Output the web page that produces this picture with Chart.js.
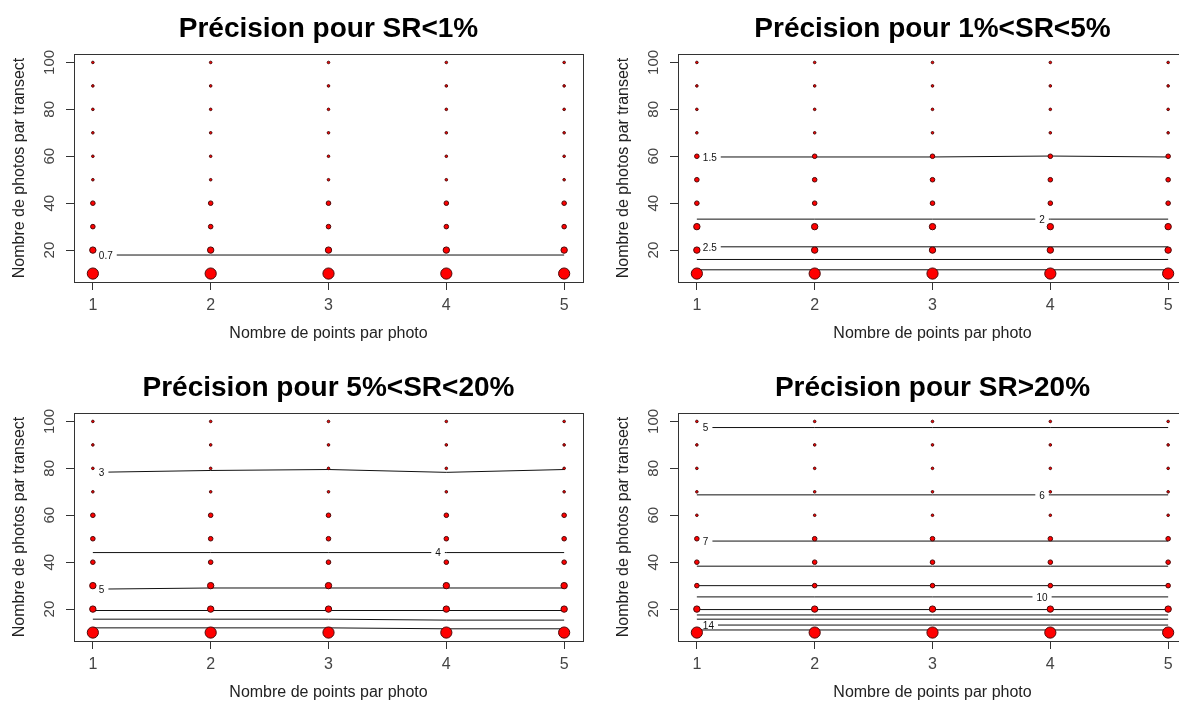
<!DOCTYPE html>
<html>
<head>
<meta charset="utf-8">
<script src="https://cdn.jsdelivr.net/npm/chart.js@4"></script>
<style>
  html, body { margin: 0; padding: 0; background: #fff; }
  body { width: 1179px; height: 702px; overflow: hidden; position: relative; }
  canvas { position: absolute; }
</style>
</head>
<body>
<canvas id="c1" width="600" height="352" style="left:0;top:0"></canvas>
<canvas id="c2" width="600" height="352" style="left:604px;top:0"></canvas>
<canvas id="c3" width="600" height="352" style="left:0;top:359px"></canvas>
<canvas id="c4" width="600" height="352" style="left:604px;top:359px"></canvas>
<script>
// ---------------------- Data ----------------------
const pointsPerPhoto = [1, 2, 3, 4, 5];
const photosPerTransect = [10, 20, 30, 40, 50, 60, 70, 80, 90, 100];
const xTicks = [1, 2, 3, 4, 5];
const yTicks = [20, 40, 60, 80, 100];

const titles = [
  "Précision pour SR<1%",
  "Précision pour 1%<SR<5%",
  "Précision pour 5%<SR<20%",
  "Précision pour SR>20%"
];

// symbol size class for each photos-per-transect value (10..100)
const sizeSR1 = [4, 3, 2, 2, 1, 1, 1, 1, 1, 1];
const sizeSR5 = [4, 3, 3, 2, 2, 2, 1, 1, 1, 1];
const sizeSR20 = [4, 3, 3, 2, 2, 2, 1, 1, 1, 1];
const sizeSRmax = [4, 3, 2, 2, 2, 1, 1, 1, 1, 1];

// contour levels, their height at x = 1..5, and where the label sits
const levelsSR1 = ["0.7"];
const contourSR1 = [[17.9, 17.9, 17.9, 17.9, 17.9]];
const labelSR1 = ["left"];

const levelsSR5 = ["1.5", "2", "2.5", "3", "3.5"];
const contourSR5 = [
  [59.7, 59.7, 59.7, 60.1, 59.7],
  [33.2, 33.2, 33.2, 33.2, 33.2],
  [21.4, 21.4, 21.4, 21.4, 21.4],
  [16.0, 16.0, 16.0, 16.0, 16.0],
  [11.6, 11.6, 11.6, 11.6, 11.6]
];
const labelSR5 = ["left", "mid", "left", null, null];

const levelsSR20 = ["3", "4", "5", "6", "7", "8"];
const contourSR20 = [
  [78.3, 79.1, 79.5, 78.3, 79.5],
  [44.1, 44.1, 44.1, 44.1, 44.1],
  [28.5, 29.0, 29.0, 29.0, 29.0],
  [19.4, 19.4, 19.4, 19.4, 19.4],
  [15.7, 15.7, 15.7, 15.3, 15.3],
  [12.0, 12.0, 12.0, 11.6, 11.6]
];
const labelSR20 = ["left", "mid", "left", null, null, null];

const levelsSRmax = ["5", "6", "7", "8", "9", "10", "11", "12", "13", "14", "15"];
const contourSRmax = [
  [97.4, 97.4, 97.4, 97.4, 97.4],
  [68.7, 68.7, 68.7, 68.7, 68.7],
  [49.0, 49.0, 49.0, 49.0, 49.0],
  [38.3, 38.3, 38.3, 38.3, 38.3],
  [30.0, 30.0, 30.0, 30.0, 30.0],
  [25.2, 25.2, 25.2, 25.2, 25.2],
  [19.8, 19.8, 19.8, 19.8, 19.8],
  [17.5, 17.5, 17.5, 17.5, 17.5],
  [15.7, 15.7, 15.7, 15.7, 15.7],
  [13.2, 13.2, 13.2, 13.2, 13.2],
  [11.1, 11.1, 11.1, 11.1, 11.1]
];
const labelSRmax = ["left", "mid", "left", null, null, "mid", null, null, null, "left", null];

// ---------------------- Style ----------------------
const FONT = "'Liberation Sans', Arial, sans-serif";
const radiusForSize = { 1: 1.3, 2: 2.3, 3: 3.2, 4: 5.6 };
const MID_LABEL_X = 3.93;

const framePlugin = {
  id: "frame",
  afterDraw(chart) {
    const { ctx, chartArea: a, scales } = chart;
    const cfg = chart.options.plugins.frame;
    ctx.save();
    ctx.strokeStyle = "#333";
    ctx.lineWidth = 1;
    ctx.strokeRect(a.left + 0.5, a.top + 0.5, a.right - a.left, a.bottom - a.top);

    // title
    ctx.fillStyle = "#000";
    ctx.font = "bold 28px " + FONT;
    ctx.textAlign = "center";
    ctx.textBaseline = "alphabetic";
    ctx.fillText(cfg.title, (a.left + a.right) / 2, a.top - 17);

    // y tick labels (rotated like R)
    ctx.fillStyle = "#444";
    ctx.font = "15px " + FONT;
    ctx.textBaseline = "middle";
    scales.y.ticks.forEach(t => {
      const py = scales.y.getPixelForValue(t.value);
      ctx.save();
      ctx.translate(a.left - 24, py);
      ctx.rotate(-Math.PI / 2);
      ctx.fillText(String(t.value), 0, 0);
      ctx.restore();
    });

    // axis titles
    ctx.font = "16px " + FONT;
    ctx.fillStyle = "#222";
    ctx.fillText("Nombre de points par photo", (a.left + a.right) / 2, a.bottom + 52);
    ctx.save();
    ctx.translate(a.left - 54, (a.top + a.bottom) / 2);
    ctx.rotate(-Math.PI / 2);
    ctx.fillText("Nombre de photos par transect", 0, 0);
    ctx.restore();
    ctx.restore();
  }
};

// contour labels are drawn just before the points (dataset 0) so points stay on top
const contourLabelPlugin = {
  id: "contourLabels",
  beforeDatasetDraw(chart, args) {
    if (args.index !== 0) return;
    const cfg = chart.options.plugins.contourLabels;
    const { ctx, scales } = chart;
    ctx.save();
    ctx.font = "10px " + FONT;
    ctx.textBaseline = "middle";
    ctx.textAlign = "center";
    cfg.levels.forEach((lev, i) => {
      const where = cfg.labels[i];
      if (!where) return;
      const row = cfg.heights[i];
      const w = ctx.measureText(lev).width;
      let cx, yVal, x0, x1;
      if (where === "left") {
        yVal = row[0];
        const start = scales.x.getPixelForValue(1);
        cx = start + 6 + w / 2;
        x0 = start - 1;
        x1 = cx + w / 2 + 4;
      } else {
        const k = Math.floor(MID_LABEL_X) - 1;
        const f = MID_LABEL_X - Math.floor(MID_LABEL_X);
        yVal = row[k] + (row[k + 1] - row[k]) * f;
        cx = scales.x.getPixelForValue(MID_LABEL_X);
        x0 = cx - w / 2 - 4;
        x1 = cx + w / 2 + 4;
      }
      const py = scales.y.getPixelForValue(yVal);
      ctx.fillStyle = "#fff";
      ctx.fillRect(x0, py - 3, x1 - x0, 6);
      ctx.fillStyle = "#111";
      ctx.fillText(lev, cx, py + 1);
    });
    ctx.restore();
  }
};

function buildPanel(canvasId, title, sizes, levels, heights, labels) {
  const pts = [];
  const radii = [];
  pointsPerPhoto.forEach(x => {
    photosPerTransect.forEach((y, j) => {
      pts.push({ x, y });
      radii.push(radiusForSize[sizes[j]]);
    });
  });

  const datasets = [{
    type: "scatter",
    data: pts,
    pointRadius: radii,
    pointHoverRadius: radii,
    backgroundColor: "#ff0000",
    borderColor: "#4a0808",
    borderWidth: 1,
    order: 0
  }];

  heights.forEach(row => {
    datasets.push({
      type: "line",
      data: pointsPerPhoto.map((x, k) => ({ x, y: row[k] })),
      borderColor: "#111",
      borderWidth: 1,
      pointRadius: 0,
      tension: 0,
      fill: false,
      order: 1
    });
  });

  return new Chart(document.getElementById(canvasId), {
    data: { datasets },
    options: {
      responsive: false,
      animation: false,
      devicePixelRatio: 1,
      layout: { padding: { left: 0, top: 54, right: 17, bottom: 0 } },
      plugins: {
        legend: { display: false },
        tooltip: { enabled: false },
        frame: { title },
        contourLabels: { levels, heights, labels }
      },
      scales: {
        x: {
          type: "linear",
          min: 0.84,
          max: 5.16,
          afterBuildTicks: s => { s.ticks = xTicks.map(v => ({ value: v })); },
          afterFit: s => { s.height = 70; },
          border: { display: false },
          grid: { drawOnChartArea: false, drawTicks: true, tickLength: 8, color: "#333" },
          ticks: { color: "#444", font: { size: 16, family: FONT }, padding: 6, maxRotation: 0 }
        },
        y: {
          type: "linear",
          min: 6.4,
          max: 103.6,
          afterBuildTicks: s => { s.ticks = yTicks.map(v => ({ value: v })); },
          afterFit: s => { s.width = 74; },
          border: { display: false },
          grid: { drawOnChartArea: false, drawTicks: true, tickLength: 8, color: "#333" },
          ticks: { display: false }
        }
      }
    },
    plugins: [framePlugin, contourLabelPlugin]
  });
}

buildPanel("c1", titles[0], sizeSR1, levelsSR1, contourSR1, labelSR1);
buildPanel("c2", titles[1], sizeSR5, levelsSR5, contourSR5, labelSR5);
buildPanel("c3", titles[2], sizeSR20, levelsSR20, contourSR20, labelSR20);
buildPanel("c4", titles[3], sizeSRmax, levelsSRmax, contourSRmax, labelSRmax);
</script>
</body>
</html>
